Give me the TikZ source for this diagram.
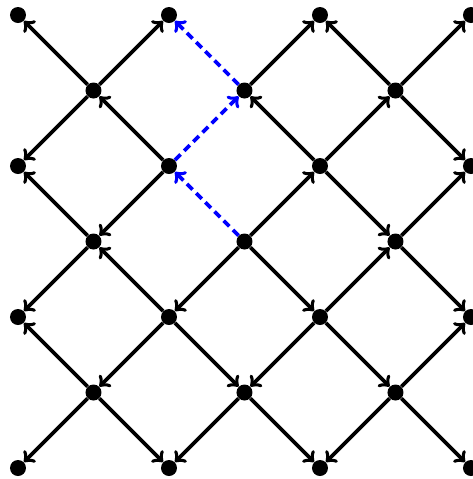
\documentclass[tikz,border=0pt]{standalone}
\begin{document}
\begin{tikzpicture}[x=0.5pt,y=-0.5pt,
  dot/.style={circle,fill=black,inner sep=0pt,minimum size=8pt},
  edge/.style={->,line width=1.9pt,black},
  dashedge/.style={->,line width=1.9pt,blue,dash pattern=on 4pt off 2.5pt}]
\useasboundingbox (0,0) rectangle (473,479);
\foreach \r in {0,2,4,6}{\foreach \c in {0,2,4,6}{\node[dot] (n-\c-\r) at ({18+75.5*\c},{15+75.5*\r}) {};}}
\foreach \r in {1,3,5}{\foreach \c in {1,3,5}{\node[dot] (n-\c-\r) at ({18+75.5*\c},{15+75.5*\r}) {};}}
\foreach \a/\b in {1-1/0-0, 1-1/2-0, 3-1/4-0, 5-1/4-0, 5-1/6-0,
  1-1/0-2, 2-2/1-1, 4-2/3-1, 4-2/5-1, 5-1/6-2,
  1-3/0-2, 2-2/1-3, 3-3/4-2, 4-2/5-3, 5-3/6-2,
  1-3/0-4, 2-4/1-3, 3-3/2-4, 3-3/4-4, 4-4/5-3, 5-3/6-4,
  1-5/0-4, 2-4/1-5, 2-4/3-5, 4-4/3-5, 4-4/5-5, 5-5/6-4,
  1-5/0-6, 1-5/2-6, 3-5/2-6, 3-5/4-6, 5-5/4-6, 5-5/6-6}
  {\draw[edge] (n-\a) -- (n-\b);}
\foreach \a/\b in {3-1/2-0, 2-2/3-1, 3-3/2-2}
  {\draw[dashedge] (n-\a) -- (n-\b);}
\end{tikzpicture}
\end{document}
